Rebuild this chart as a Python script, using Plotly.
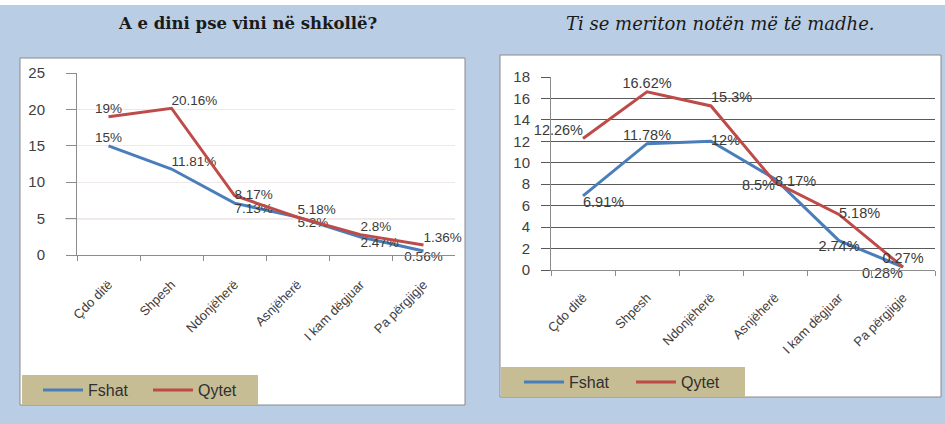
import plotly.graph_objects as go

W, H = 945, 424

categories = ["Çdo ditë", "Shpesh", "Ndonjëherë", "Asnjëherë", "I kam dëgjuar", "Pa përgjigje"]

# Chart 1: A e dini pse vini në shkollë?
left_fshat = [15, 11.81, 7.13, 5.2, 2.47, 0.56]
left_qytet = [19, 20.16, 8.17, 5.18, 2.8, 1.36]

# Chart 2: Ti se meriton notën më të madhe.
right_fshat = [6.91, 11.78, 12, 8.5, 2.74, 0.28]
right_qytet = [12.26, 16.62, 15.3, 8.17, 5.18, 0.27]

left_title = "A e dini pse vini në shkollë?"
right_title = "Ti se meriton notën më të madhe."
series_names = ["Fshat", "Qytet"]

BLUE = "#4a7ebb"
RED = "#be4b48"
BG = "#b9cde5"
TAN = "#c6bd95"

def px_x(p):
    return p / W

def px_y(p):
    return 1 - p / H

def fmt(v):
    return f"{v:g}%"

fig = go.Figure()

label_font = dict(family="Liberation Sans, Arial", size=13.5, color="#3a3a3a")

fig.add_trace(go.Scatter(
    x=categories, y=left_fshat, mode="lines+text", name=series_names[0],
    line=dict(color=BLUE, width=3), text=[fmt(v) for v in left_fshat],
    textposition=["top center", "top right", "bottom right", "bottom right", "bottom right", "bottom center"],
    textfont=label_font, cliponaxis=False, xaxis="x", yaxis="y", legend="legend"))
fig.add_trace(go.Scatter(
    x=categories, y=left_qytet, mode="lines+text", name=series_names[1],
    line=dict(color=RED, width=3), text=[fmt(v) for v in left_qytet],
    textposition=["top center", "top right", "middle right", "top right", "top right", "top right"],
    textfont=label_font, cliponaxis=False, xaxis="x", yaxis="y", legend="legend"))

label_font2 = dict(family="Liberation Sans, Arial", size=14.5, color="#3a3a3a")
fig.add_trace(go.Scatter(
    x=categories, y=right_fshat, mode="lines+text", name=series_names[0],
    line=dict(color=BLUE, width=3), text=[fmt(v) for v in right_fshat],
    textposition=["bottom right", "top center", "middle right", "bottom left", "bottom center", "bottom left"],
    textfont=label_font2, cliponaxis=False, xaxis="x2", yaxis="y2", legend="legend2"))
fig.add_trace(go.Scatter(
    x=categories, y=right_qytet, mode="lines+text", name=series_names[1],
    line=dict(color=RED, width=3), text=[fmt(v) for v in right_qytet],
    textposition=["top left", "top center", "top right", "middle right", "middle right", "top center"],
    textfont=label_font2, cliponaxis=False, xaxis="x2", yaxis="y2", legend="legend2"))

tick_font_x = dict(family="Liberation Sans, Arial", size=13, color="#404040")
tick_font_y = dict(family="Liberation Sans, Arial", size=15, color="#404040")

shapes = [
    dict(type="rect", xref="paper", yref="paper", x0=0, x1=1, y0=px_y(5), y1=1,
         fillcolor="white", line=dict(width=0), layer="below"),
    dict(type="rect", xref="paper", yref="paper", x0=px_x(20), x1=px_x(465), y0=px_y(405), y1=px_y(58),
         fillcolor="white", line=dict(color="#8a8a8a", width=1), layer="below"),
    dict(type="rect", xref="paper", yref="paper", x0=px_x(500), x1=px_x(941), y0=px_y(397), y1=px_y(55),
         fillcolor="white", line=dict(color="#8a8a8a", width=1), layer="below"),
    dict(type="rect", xref="paper", yref="paper", x0=px_x(22), x1=px_x(258), y0=px_y(405), y1=px_y(375),
         fillcolor=TAN, line=dict(width=0), layer="below"),
    dict(type="rect", xref="paper", yref="paper", x0=px_x(501), x1=px_x(745), y0=px_y(397), y1=px_y(367),
         fillcolor=TAN, line=dict(width=0), layer="below"),
    dict(type="line", xref="x domain", yref="y", x0=-0.03, x1=1, y0=5, y1=5,
         line=dict(color="#404040", width=1), layer="below"),
]

annotations = [
    dict(text=f"<b>{left_title}</b>", xref="paper", yref="paper", x=px_x(248), y=px_y(24),
         xanchor="center", yanchor="middle", showarrow=False,
         font=dict(family="DejaVu Serif, serif", size=16.5, color="#1a1a1a")),
    dict(text=f"<i>{right_title}</i>", xref="paper", yref="paper", x=px_x(720), y=px_y(24),
         xanchor="center", yanchor="middle", showarrow=False,
         font=dict(family="DejaVu Serif, serif", size=18, color="#1a1a1a")),
]

fig.update_layout(
    width=W, height=H, autosize=False,
    margin=dict(l=0, r=0, t=0, b=0, autoexpand=False),
    paper_bgcolor=BG, plot_bgcolor="rgba(0,0,0,0)",
    shapes=shapes, annotations=annotations,
    xaxis=dict(domain=[px_x(77), px_x(455)], anchor="y", type="category", range=[-0.5, 5.5],
               tickangle=-45, tickfont=tick_font_x, showgrid=False, showline=True,
               linecolor="#8c8c8c", linewidth=1, ticks="outside", tickson="boundaries",
               ticklen=5, tickcolor="#8c8c8c", ticklabelstandoff=16, zeroline=False, automargin=False),
    yaxis=dict(domain=[px_y(255), px_y(73)], anchor="x", range=[0, 25], dtick=5,
               tickfont=tick_font_y, showgrid=True, gridcolor="#efe8e8", showline=True,
               linecolor="#8c8c8c", linewidth=1, ticks="outside", ticklen=10, tickcolor="#8c8c8c",
               ticklabelstandoff=18, zeroline=False, automargin=False),
    xaxis2=dict(domain=[px_x(551), px_x(935)], anchor="y2", type="category", range=[-0.5, 5.5],
                tickangle=-45, tickfont=tick_font_x, showgrid=False, showline=True,
                linecolor="#8c8c8c", linewidth=1, ticks="outside", tickson="boundaries",
                ticklen=5, tickcolor="#8c8c8c", ticklabelstandoff=14, zeroline=False, automargin=False),
    yaxis2=dict(domain=[px_y(270), px_y(77)], anchor="x2", range=[0, 18], dtick=2,
                tickfont=tick_font_y, showgrid=True, gridcolor="#5a5a5a", gridwidth=1, showline=True,
                linecolor="#8c8c8c", linewidth=1, ticks="outside", ticklen=9, tickcolor="#5a5a5a",
                ticklabelstandoff=8, zeroline=False, automargin=False),
    legend=dict(orientation="h", x=px_x(38), y=px_y(390), xanchor="left", yanchor="middle",
                bgcolor="rgba(0,0,0,0)", font=dict(family="Liberation Sans, Arial", size=16, color="#303030"),
                entrywidth=55, itemwidth=40),
    legend2=dict(orientation="h", x=px_x(519), y=px_y(382), xanchor="left", yanchor="middle",
                 bgcolor="rgba(0,0,0,0)", font=dict(family="Liberation Sans, Arial", size=16, color="#303030"),
                 entrywidth=57, itemwidth=40),
)

fig.write_html("out.html", config={"displayModeBar": False},
               post_script="document.body.style.margin='0';document.body.style.overflow='hidden';")
